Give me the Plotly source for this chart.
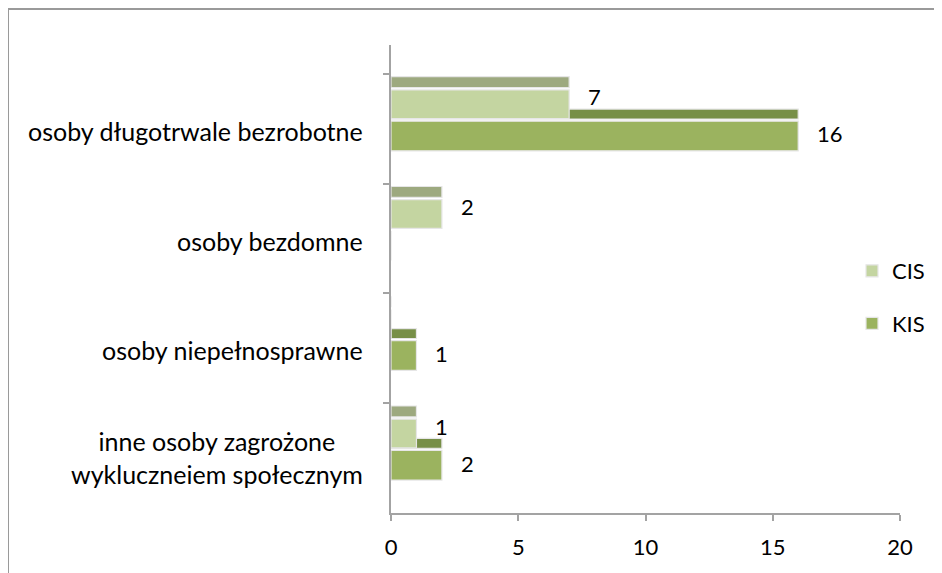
import plotly.graph_objects as go

categories = [
    "osoby długotrwale bezrobotne",
    "osoby bezdomne",
    "osoby niepełnosprawne",
    "inne osoby zagrożone<br>wykluczneiem społecznym",
]
cis = [7, 2, 0, 1]
kis = [16, 0, 1, 2]

FONT = "Lato"
GRAY = "#a3a3a3"
EDGE = "#e6e6e6"

CIS_FRONT, CIS_TOP = "#c4d5a1", "#9da97f"
KIS_FRONT, KIS_TOP = "#9bb35f", "#778f47"

# the page body adds an 8px margin, so the figure sits at (8, 8)
PAGE = 8
W, H = 942, 573
L, R, T, B = 383, 50, 37, 68


def px(x, y):
    # screen pixel -> paper coordinates (used for the outer frame / legend only)
    x, y = x - PAGE, y - PAGE
    return (x - L) / (W - L - R), (H - B - y) / (H - T - B)


fig = go.Figure()


def faces(vals, name, front, top, off_top, w_top, off_front, w_front):
    # darker "top" strip of the pseudo-3D bar, then the front face
    fig.add_trace(go.Bar(
        y=categories, x=vals, orientation="h",
        offset=off_top, width=w_top,
        marker=dict(color=top, line=dict(color=EDGE, width=1.2)),
        legendgroup=name, showlegend=False, hoverinfo="skip",
    ))
    return go.Bar(
        y=categories, x=vals, orientation="h", name=name,
        offset=off_front, width=w_front,
        marker=dict(color=front, line=dict(color=EDGE, width=1.2)),
        legendgroup=name,
    )


cis_front = faces(cis, "CIS", CIS_FRONT, CIS_TOP, -0.475, 0.10, -0.355, 0.262)
kis_front = faces(kis, "KIS", KIS_FRONT, KIS_TOP, -0.180, 0.09, -0.070, 0.270)
fig.add_trace(cis_front)
fig.add_trace(kis_front)

# value labels
for vals, dy in ((cis, 32), (kis, -5)):
    for c, v in zip(categories, vals):
        if v:
            fig.add_annotation(x=v, y=c, text=str(v), showarrow=False,
                               xanchor="left", xshift=17, yshift=dy,
                               font=dict(family=FONT, size=22, color="black"))

# category labels (centred multi-line, like Excel)
for c in categories:
    fig.add_annotation(xref="paper", x=0, y=c, text=c, showarrow=False,
                       xanchor="right", xshift=-26, align="center",
                       yshift=-2 if "<br>" not in c else 1,
                       font=dict(family=FONT, size=25, color="black"))

x0, y0 = px(8, 9)
x1, y1 = px(W + 20, H + 20)
fig.add_shape(type="rect", xref="paper", yref="paper",
              x0=x0, y0=y1, x1=x1, y1=y0,
              line=dict(color="#9a9a9a", width=2), layer="below")

fig.update_layout(
    width=W, height=H,
    barmode="overlay",
    plot_bgcolor="white", paper_bgcolor="white",
    margin=dict(l=L, r=R, t=T, b=B),
    font=dict(family=FONT, size=22, color="black"),
    legend=dict(x=px(852, 0)[0], y=px(0, 250)[1], xanchor="left", yanchor="top",
                traceorder="grouped", tracegroupgap=21,
                font=dict(family=FONT, size=22), bgcolor="rgba(0,0,0,0)"),
)
fig.update_xaxes(range=[0, 20], dtick=5, showgrid=False, zeroline=False,
                 showline=True, linecolor=GRAY, linewidth=2,
                 ticks="outside", ticklen=6, tickwidth=2, tickcolor=GRAY,
                 ticklabelstandoff=8,
                 tickfont=dict(family=FONT, size=22))
fig.update_yaxes(type="category", categoryorder="array", categoryarray=categories,
                 range=[3.5, -0.764], autorange=False,
                 showticklabels=False, showgrid=False, zeroline=False,
                 showline=True, linecolor=GRAY, linewidth=2,
                 ticks="outside", tickson="boundaries", ticklen=6, tickwidth=2,
                 tickcolor=GRAY)

fig.write_html("out.html")
